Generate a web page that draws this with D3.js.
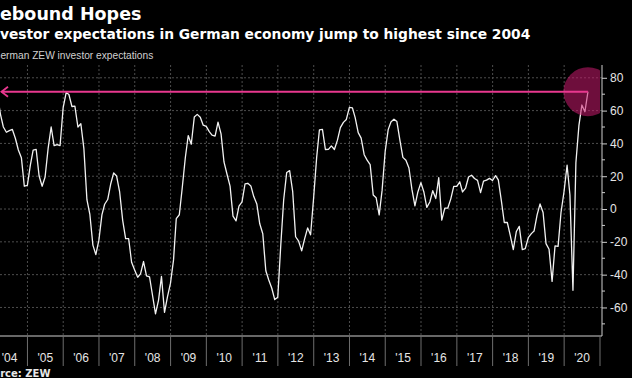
<!DOCTYPE html>
<html>
<head>
<meta charset="utf-8">
<script src="https://cdn.jsdelivr.net/npm/d3@7"></script>
<style>
  html, body { margin: 0; padding: 0; background: #000; }
  svg { display: block; }
</style>
</head>
<body>
<svg width="632" height="378"></svg>
<script>
// year labels along the bottom
var yearLabels = ["'04", "'05", "'06", "'07", "'08", "'09", "'10", "'11", "'12",
                  "'13", "'14", "'15", "'16", "'17", "'18", "'19", "'20"];
var firstYear = 2004;

// ZEW economic sentiment, monthly from Jan 2004 to Aug 2020
var zew2004 = [73.4, 69.6, 57.9, 50.0, 46.8, 47.8, 48.5, 43.0, 36.0, 31.3, 13.9, 14.4];
var zew2005 = [26.9, 35.9, 36.3, 20.1, 13.9, 19.5, 37.0, 50.0, 38.6, 39.3, 38.7, 61.6];
var zew2006 = [71.0, 69.8, 62.5, 62.7, 50.0, 52.0, 36.8, 5.7, -3.3, -22.0, -27.8, -19.0];
var zew2007 = [-3.6, 2.9, 5.8, 15.1, 22.0, 20.1, 10.4, -6.9, -18.1, -18.1, -32.5, -37.2];
var zew2008 = [-41.6, -39.5, -32.0, -40.7, -41.4, -52.4, -63.9, -55.5, -41.1, -63.0, -53.5, -45.2];
var zew2009 = [-31.0, -5.8, -3.5, 13.0, 31.1, 44.8, 39.5, 56.1, 57.7, 56.0, 51.1, 50.4];
var zew2010 = [47.2, 45.1, 44.5, 53.0, 45.8, 28.7, 21.2, 14.0, -4.3, -7.2, 1.8, 4.3];
var zew2011 = [15.4, 15.7, 14.1, 7.6, 3.1, -9.0, -15.1, -37.6, -43.3, -48.3, -55.2, -53.8];
var zew2012 = [-21.6, 5.4, 22.3, 23.4, 10.8, -16.9, -19.6, -25.5, -18.2, -11.5, -15.7, 6.9];
var zew2013 = [31.5, 48.2, 48.5, 36.3, 36.4, 38.5, 36.3, 42.0, 49.6, 52.8, 54.6, 62.0];
var zew2014 = [61.7, 55.7, 46.6, 43.2, 33.1, 29.8, 27.1, 8.6, 6.9, -3.6, 11.5, 34.9];
var zew2015 = [48.4, 53.0, 54.8, 53.3, 41.9, 31.5, 29.7, 25.0, 12.1, 1.9, 10.4, 16.1];
var zew2016 = [10.2, 1.0, 4.3, 11.2, 6.4, 19.2, -6.8, 0.5, 0.5, 6.2, 13.8, 13.8];
var zew2017 = [16.6, 10.4, 12.8, 19.5, 20.6, 18.6, 17.5, 10.0, 17.0, 17.6, 18.7, 17.4];
var zew2018 = [20.4, 17.8, 5.1, -8.2, -8.2, -16.1, -24.7, -13.7, -10.6, -24.7, -24.1, -17.5];
var zew2019 = [-15.0, -13.4, -3.6, 3.1, -2.1, -21.1, -24.5, -44.1, -22.5, -22.8, -2.1, 10.7];
var zew2020 = [26.7, 8.7, -49.5, 28.2, 51.0, 63.4, 59.3, 71.5];

var yTicks = [-60, -40, -20, 0, 20, 40, 60, 80];
var yMinorTicks = [-70, -50, -30, -10, 10, 30, 50, 70];

var values = [].concat(zew2004, zew2005, zew2006, zew2007, zew2008, zew2009, zew2010,
  zew2011, zew2012, zew2013, zew2014, zew2015, zew2016, zew2017, zew2018, zew2019, zew2020);

// monthly readings dated at the end of each month
var series = values.map(function(v, i) {
    return { date: new Date(firstYear, i + 1, 0), value: v };
});
var latest = series[series.length - 1];

var svg = d3.select('svg');

var plotLeft = 0, plotRight = 602, plotTop = 65, plotBottom = 336;

var x = d3.scaleTime()
    .domain([new Date(2004, 0, 1), new Date(2021, 0, 1)])
    .range([-8.4, 600]);

var y = d3.scaleLinear()
    .domain([-77.4, 87.8])
    .range([plotBottom, plotTop]);

var yearStarts = yearLabels.map(function(d, i) { return new Date(firstYear + i, 0, 1); });
var yearEnds = yearLabels.map(function(d, i) { return new Date(firstYear + i + 1, 0, 1); });

//titles
svg.append('text')
    .attr('x', -13.5).attr('y', 20)
    .style('font-family', 'DejaVu Sans')
    .style('font-weight', 'bold')
    .style('font-size', '17.5px')
    .style('fill', '#fff')
    .text('Rebound Hopes');

svg.append('text')
    .attr('x', -15).attr('y', 39)
    .style('font-family', 'DejaVu Sans')
    .style('font-weight', 'bold')
    .style('font-size', '13.8px')
    .style('fill', '#fff')
    .text('Investor expectations in German economy jump to highest since 2004');

svg.append('text')
    .attr('x', -7.5).attr('y', 59)
    .style('font-family', 'Liberation Sans')
    .style('font-size', '10.2px')
    .style('fill', '#d0d0d0')
    .text('German ZEW investor expectations');

svg.append('text')
    .attr('x', -21).attr('y', 377)
    .style('font-family', 'DejaVu Sans')
    .style('font-weight', 'bold')
    .style('font-size', '10px')
    .style('fill', '#e8e8e8')
    .text('Source: ZEW');

// grid
var grid = svg.append('g');
grid.selectAll('.hgrid')
    .data(yTicks)
    .enter().append('line')
    .attr('x1', plotLeft).attr('x2', plotRight)
    .attr('y1', function(d) { return y(d); })
    .attr('y2', function(d) { return y(d); })
    .style('stroke', '#4d4d4d')
    .style('stroke-dasharray', '2,2');

grid.selectAll('.vgrid')
    .data(yearStarts.slice(1))
    .enter().append('line')
    .attr('x1', function(d) { return x(d); })
    .attr('x2', function(d) { return x(d); })
    .attr('y1', plotTop).attr('y2', plotBottom)
    .style('stroke', '#4d4d4d')
    .style('stroke-dasharray', '2,2');

var clip = svg.append('defs').append('clipPath')
    .attr('id', 'clip')
    .append('rect')
    .attr('x', plotLeft).attr('y', plotTop)
    .attr('width', x(new Date(2021, 0, 1)) - plotLeft)
    .attr('height', plotBottom - plotTop);

var plot = svg.append('g').attr('clip-path', 'url(#clip)');

var line = d3.line()
    .x(function(d) { return x(d.date); })
    .y(function(d) { return y(d.value); });

plot.append('path')
    .datum(series)
    .attr('d', line)
    .style('fill', 'none')
    .style('stroke', '#f2f2f2')
    .style('stroke-width', 1.3)
    .style('stroke-linejoin', 'round');

// highlight circle on the latest reading
plot.append('circle')
    .attr('cx', x(latest.date))
    .attr('cy', y(latest.value))
    .attr('r', 24.5)
    .style('fill', 'rgb(200, 25, 110)')
    .style('fill-opacity', 0.55);

// arrow back to the earlier level
var pink = '#e8388f';
plot.append('line')
    .attr('x1', x(latest.date)).attr('x2', plotLeft + 1.5)
    .attr('y1', y(latest.value)).attr('y2', y(latest.value))
    .style('stroke', pink)
    .style('stroke-width', 2);

plot.append('path')
    .attr('d', 'M' + (plotLeft + 8) + ',' + (y(latest.value) - 5) +
               'L' + (plotLeft + 1.5) + ',' + y(latest.value) +
               'L' + (plotLeft + 8) + ',' + (y(latest.value) + 5))
    .style('fill', 'none')
    .style('stroke', pink)
    .style('stroke-width', 1.8);

// right axis
var yAxis = d3.axisRight(y)
    .tickValues(yTicks)
    .tickSize(5)
    .tickPadding(3)
    .tickFormat(function(d) { return String(d); });

var gY = svg.append('g')
    .attr('transform', 'translate(' + plotRight + ',0)')
    .call(yAxis);
gY.select('.domain').attr('d', 'M0,' + plotTop + 'V' + plotBottom);

gY.selectAll('.minor')
    .data(yMinorTicks)
    .enter().append('line')
    .attr('class', 'minor')
    .attr('x1', 0).attr('x2', 3)
    .attr('y1', function(d) { return y(d); })
    .attr('y2', function(d) { return y(d); });

gY.selectAll('line, path').style('stroke', '#cfcfcf');
gY.selectAll('text')
    .style('font-family', 'Liberation Sans')
    .style('font-size', '12px')
    .style('fill', '#e6e6e6');

// bottom axis
svg.append('line')
    .attr('x1', plotLeft).attr('x2', plotRight)
    .attr('y1', plotBottom).attr('y2', plotBottom)
    .style('stroke', '#cfcfcf');

svg.selectAll('.sep')
    .data(yearEnds)
    .enter().append('line')
    .attr('class', 'sep')
    .attr('x1', function(d) { return x(d); })
    .attr('x2', function(d) { return x(d); })
    .attr('y1', plotBottom).attr('y2', 366)
    .style('stroke', '#6e6e6e');

svg.selectAll('.year')
    .data(yearLabels)
    .enter().append('text')
    .attr('class', 'year')
    .attr('x', function(d, i) { return (x(yearStarts[i]) + x(yearEnds[i])) / 2; })
    .attr('y', 362)
    .attr('text-anchor', 'middle')
    .style('font-family', 'Liberation Sans')
    .style('font-size', '12px')
    .style('fill', '#e6e6e6')
    .text(function(d) { return d; });
</script>
</body>
</html>
